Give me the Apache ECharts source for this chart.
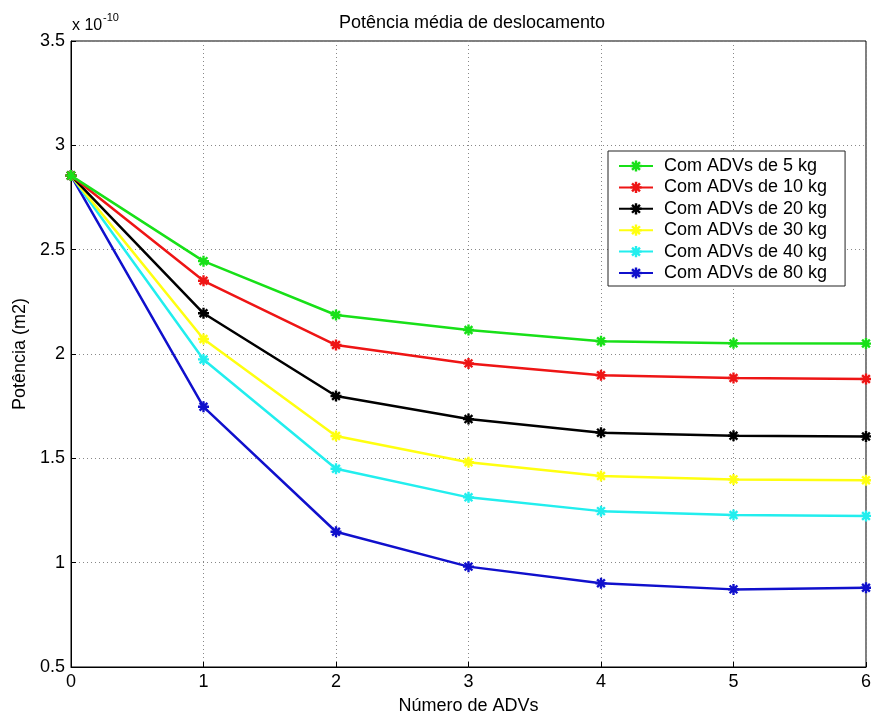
<!DOCTYPE html>
<html><head><meta charset="utf-8">
<script src="https://cdn.jsdelivr.net/npm/echarts@6/dist/echarts.min.js"></script>
<style>html,body{margin:0;padding:0;background:#fff}#c{width:871px;height:716px}</style>
</head><body><div id="c"></div>
<script>
const categories = [0, 1, 2, 3, 4, 5, 6];
const seriesNames = ['Com ADVs de 5 kg','Com ADVs de 10 kg','Com ADVs de 20 kg','Com ADVs de 30 kg','Com ADVs de 40 kg','Com ADVs de 80 kg'];
const kg5  = [2.855, 2.445, 2.187, 2.115, 2.061, 2.051, 2.050];
const kg10 = [2.855, 2.351, 2.043, 1.955, 1.898, 1.885, 1.880];
const kg20 = [2.855, 2.195, 1.799, 1.688, 1.623, 1.608, 1.605];
const kg30 = [2.855, 2.072, 1.607, 1.481, 1.415, 1.399, 1.395];
const kg40 = [2.855, 1.974, 1.450, 1.313, 1.247, 1.228, 1.224];
const kg80 = [2.855, 1.747, 1.148, 0.981, 0.901, 0.872, 0.880];
const yTicks = ['0.5','1','1.5','2','2.5','3','3.5'];
const colors = ['#18e018','#ee1515','#000000','#ffff10','#22eeee','#1010cc'];
const allData = [kg5, kg10, kg20, kg30, kg40, kg80];

// asterisk marker path
function asteriskPath(){
  let p = '';
  const w = 1.3, L = 6;
  for (let k = 0; k < 4; k++) {
    const a = k * Math.PI / 4;
    const c = Math.cos(a), s = Math.sin(a);
    const pts = [[-L,-w],[L,-w],[L,w],[-L,w]].map(([x,y]) => [(x*c - y*s).toFixed(3), (x*s + y*c).toFixed(3)]);
    p += 'M' + pts.map(q => q.join(',')).join('L') + 'Z';
  }
  return 'path://' + p;
}
const star = asteriskPath();

const chart = echarts.init(document.getElementById('c'));
const font = 'Liberation Sans, Arial, sans-serif';
chart.setOption({
  animation: false,
  backgroundColor: '#fff',
  title: {
    text: 'Potência média de deslocamento',
    left: 467, top: 9, textAlign: 'center',
    textStyle: {fontFamily: font, fontSize: 18, fontWeight: 'normal', color: '#000'}
  },
  graphic: [{
    type: 'text', left: 72, top: 18,
    style: {text: 'x 10', font: '16px Liberation Sans, Arial, sans-serif', fill: '#000'}
  },{
    type: 'text', left: 103, top: 12,
    style: {text: '-10', font: '11px Liberation Sans, Arial, sans-serif', fill: '#000'}
  }],
  legend: {
    data: seriesNames,
    orient: 'vertical',
    left: 608, top: 151,
    width: 240,
    padding: [6, 18, 4, 10],
    itemGap: 3.4,
    itemWidth: 34, itemHeight: 14,
    borderColor: '#222', borderWidth: 1,
    backgroundColor: '#fff',
    textStyle: {fontFamily: font, fontSize: 18, lineHeight: 18, color: '#000', padding: [0, 0, 0, 6]}
  },
  grid: {left: 71, right: 5, top: 41, bottom: 49, containLabel: false, outerBoundsMode: 'none',
    show: true, borderColor: '#000', borderWidth: 1, backgroundColor: 'transparent'},
  xAxis: {
    type: 'value', min: 0, max: 6, interval: 1,
    name: 'Número de ADVs', nameLocation: 'middle', nameGap: 30,
    nameTextStyle: {fontFamily: font, fontSize: 18, color: '#000'},
    axisLine: {show: true, lineStyle: {color: '#000'}},
    axisTick: {show: true, inside: true, length: 5, lineStyle: {color: '#000'}},
    axisLabel: {fontFamily: font, fontSize: 18, color: '#000', margin: 6,
      formatter: v => String(categories[v])},
    splitLine: {show: true, lineStyle: {color: '#888', type: [1, 3], width: 1}}
  },
  yAxis: {
    type: 'value', min: 0.5, max: 3.5, interval: 0.5,
    name: 'Potência (m2)', nameLocation: 'middle', nameGap: 41,
    nameTextStyle: {fontFamily: font, fontSize: 18, color: '#000'},
    axisLine: {show: true, lineStyle: {color: '#000'}},
    axisTick: {show: true, inside: true, length: 5, lineStyle: {color: '#000'}},
    axisLabel: {fontFamily: font, fontSize: 18, color: '#000', margin: 6,
      formatter: v => yTicks[Math.round((v - 0.5) / 0.5)]},
    splitLine: {show: true, lineStyle: {color: '#888', type: [1, 3], width: 1}}
  },
  series: seriesNames.map((n, i) => ({
    name: n, type: 'line',
    data: categories.map((x, j) => [x, allData[i][j]]),
    symbol: star, symbolSize: 11, showSymbol: true,
    lineStyle: {color: colors[i], width: 2.5},
    itemStyle: {color: colors[i]},
    z: 10 - i
  }))
});
</script></body></html>
